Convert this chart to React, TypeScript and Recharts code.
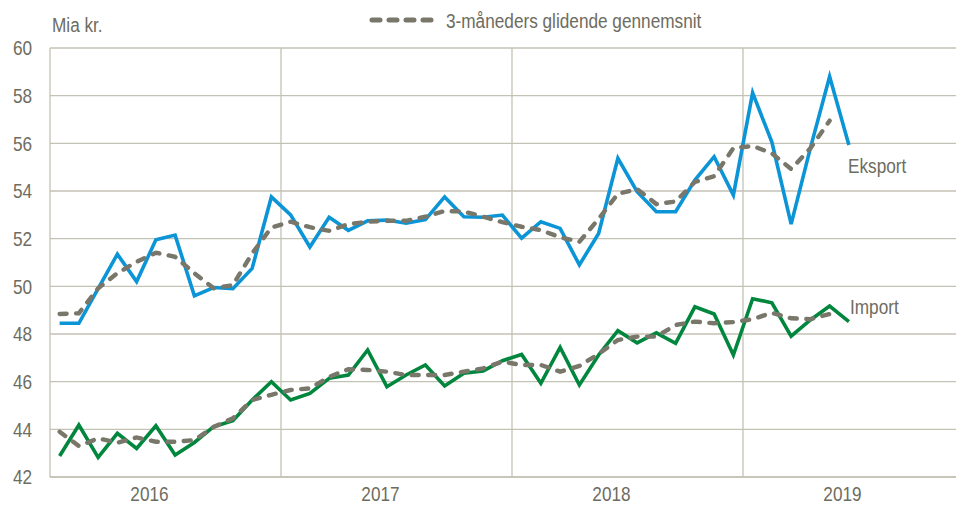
import React from 'react';
import { LineChart, Line, XAxis, YAxis, CartesianGrid } from 'recharts';

// Monthly values, Jan 2016 - Jun 2019 (bn DKK)
const years = ['2016', '2017', '2018', '2019'];
const yTicks = [42, 44, 46, 48, 50, 52, 54, 56, 58, 60];

const eksport = [
  48.45, 48.45, 49.9, 51.35, 50.2, 51.95, 52.15, 49.6, 49.95, 49.9, 50.75, 53.75,
  53.0, 51.65, 52.9, 52.35, 52.75, 52.78, 52.65, 52.8, 53.75, 52.92, 52.9, 52.99,
  52.02, 52.71, 52.43, 50.9, 52.22, 55.37, 53.97, 53.13, 53.13, 54.46, 55.44, 53.83,
  58.12, 56.05, 52.61, 55.8, 58.8, 55.93,
];
const eksportMA = [
  48.84, 48.87, 49.92, 50.55, 51.03, 51.41, 51.24, 50.55, 49.92, 50.05, 51.38, 52.47,
  52.71, 52.48, 52.33, 52.61, 52.71, 52.75, 52.75, 52.92, 53.16, 53.14, 52.92, 52.69,
  52.5, 52.36, 52.06, 51.87, 52.83, 53.88, 54.08, 53.45, 53.56, 54.38, 54.62, 55.8,
  55.89, 55.58, 54.92, 55.79, 56.95,
];
const importV = [
  42.88, 44.18, 42.82, 43.83, 43.2, 44.15, 42.92, 43.45, 44.11, 44.36, 45.23, 46.0,
  45.23, 45.51, 46.14, 46.28, 47.33, 45.79, 46.28, 46.7, 45.82, 46.35, 46.45, 46.88,
  47.14, 45.93, 47.44, 45.86, 47.12, 48.14, 47.63, 48.05, 47.61, 49.14, 48.84, 47.12,
  49.48, 49.31, 47.91, 48.59, 49.17, 48.52,
];
const importMA = [
  43.9, 43.3, 43.62, 43.44, 43.66, 43.48, 43.48, 43.55, 44.1, 44.46, 45.23, 45.45,
  45.65, 45.72, 46.2, 46.52, 46.49, 46.42, 46.28, 46.28, 46.28, 46.42, 46.56, 46.84,
  46.7, 46.7, 46.42, 46.66, 47.16, 47.75, 47.89, 47.89, 48.38, 48.52, 48.45, 48.5,
  48.62, 48.89, 48.66, 48.62, 48.84,
];

const data = eksport.map((v, i) => ({
  x: i + 0.5,
  eksport: v,
  import: importV[i],
  eksportMA: eksportMA[i],
  importMA: importMA[i],
}));

const FONT = '"Liberation Sans", Arial, sans-serif';
const TEXT = '#6d6c60';
const GRID = '#c4c2b4';
const BLUE = '#0b95d7';
const GREEN = '#00873d';
const MA = '#79766a';
const NARROW = 0.86; // squeeze to mimic Arial Narrow

const narrowAt = (x: number) => `translate(${x},0) scale(${NARROW},1) translate(${-x},0)`;

const YTick = (props: any) => {
  const { x, y, payload } = props;
  return (
    <text x={x} y={y} dy="0.36em" textAnchor="end" fill={TEXT} fontSize={20} fontFamily={FONT} transform={narrowAt(x)}>
      {payload.value}
    </text>
  );
};

const XTick = (props: any) => {
  const { x, y, payload } = props;
  return (
    <text x={x - 16} y={y} dy="0.71em" textAnchor="middle" fill={TEXT} fontSize={20} fontFamily={FONT} transform={narrowAt(x - 16)}>
      {years[Math.floor(payload.value / 12)]}
    </text>
  );
};

const labelStyle: React.CSSProperties = {
  position: 'absolute',
  fontSize: 20,
  color: TEXT,
  transform: `scaleX(${NARROW})`,
  transformOrigin: 'left center',
  whiteSpace: 'nowrap',
  lineHeight: '22px',
};

export default function App() {
  return (
    <div style={{ margin: -8, width: 964, height: 509, overflow: 'hidden', position: 'relative', background: '#fff', fontFamily: FONT }}>
      <LineChart width={990} height={509} data={data} margin={{ top: 48, right: 16, bottom: 0, left: 0 }}>
        <CartesianGrid stroke={GRID} strokeWidth={1.3} verticalValues={[12, 24, 36]} />
        <XAxis
          dataKey="x"
          type="number"
          domain={[0, 48]}
          ticks={[6, 18, 30, 42]}
          tickLine={false}
          axisLine={{ stroke: GRID, strokeWidth: 1.3 }}
          tick={<XTick />}
          tickMargin={4}
          height={32}
          allowDataOverflow
        />
        <YAxis
          domain={[42, 60]}
          ticks={yTicks}
          tickLine={false}
          axisLine={{ stroke: GRID, strokeWidth: 1.3 }}
          tick={<YTick />}
          tickMargin={12}
          width={50}
          interval={0}
        />
        <Line dataKey="eksport" stroke={BLUE} strokeWidth={3.6} dot={false} isAnimationActive={false} />
        <Line dataKey="import" stroke={GREEN} strokeWidth={3.6} dot={false} isAnimationActive={false} />
        <Line dataKey="eksportMA" stroke={MA} strokeWidth={4.4} strokeLinecap="round" strokeDasharray="7 9.5" dot={false} isAnimationActive={false} />
        <Line dataKey="importMA" stroke={MA} strokeWidth={4.4} strokeLinecap="round" strokeDasharray="7 9.5" dot={false} isAnimationActive={false} />
      </LineChart>

      <div style={{ ...labelStyle, left: 52, top: 14 }}>Mia kr.</div>
      <svg style={{ position: 'absolute', left: 368, top: 15 }} width={70} height={10}>
        <line x1={4} y1={5} x2={66} y2={5} stroke={MA} strokeWidth={5} strokeLinecap="round" strokeDasharray="8 9" />
      </svg>
      <div style={{ ...labelStyle, left: 446, top: 10 }}>3-måneders glidende gennemsnit</div>
      <div style={{ ...labelStyle, left: 848, top: 155 }}>Eksport</div>
      <div style={{ ...labelStyle, left: 850, top: 296 }}>Import</div>
    </div>
  );
}
